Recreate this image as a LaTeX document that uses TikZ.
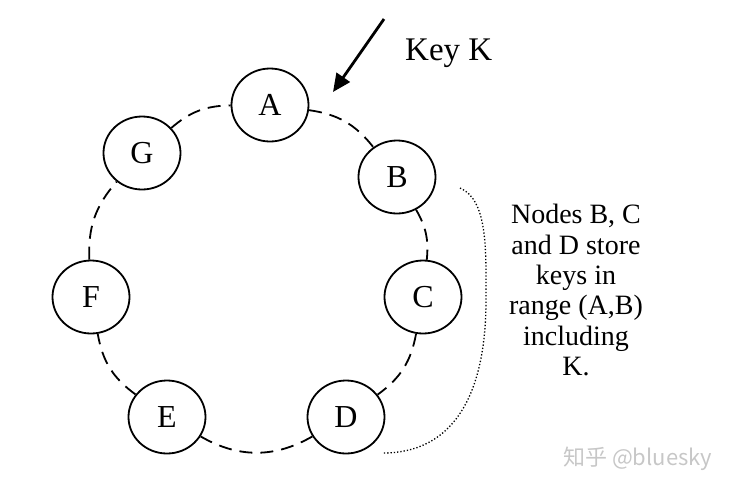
\documentclass[tikz,border=0pt]{standalone}
\usepackage{fontspec}
\setmainfont{Liberation Serif}
\newfontfamily\cjkwm{Noto Sans CJK SC}
\usetikzlibrary{shapes.geometric,arrows.meta}
\begin{document}
\begin{tikzpicture}[x=1pt,y=-1pt,
  ringnode/.style={draw,line width=1.8pt,ellipse,minimum width=77pt,minimum height=73pt,inner sep=0pt,fill=white,font=\fontsize{32}{36}\selectfont},
  ring/.style={line width=1.8pt,dash pattern=on 13pt off 8pt},
  keyarrow/.style={line width=2.8pt,-{Triangle[length=18pt,width=16pt]}},
  bracket/.style={line width=1.3pt,dash pattern=on 1.3pt off 2pt},
]
\useasboundingbox (0,0) rectangle (731,488);
\node[ringnode] (A) at (270,105) {A};
\node[ringnode] (B) at (397,177) {B};
\node[ringnode] (C) at (423,297) {C};
\node[ringnode] (D) at (346,417) {D};
\node[ringnode] (E) at (167,417) {E};
\node[ringnode] (F) at (91,297) {F};
\node[ringnode] (G) at (142,153) {G};
\draw[ring] (A) to[bend left=22] (B);
\draw[ring] (B) to[bend left=18] (C);
\draw[ring] (C) to[bend left=22] (D);
\draw[ring] (D) to[bend left=30] (E);
\draw[ring] (E) to[bend left=22] (F);
\draw[ring] (F) to[bend left=22] (G);
\draw[ring] (G) to[bend left=20] (A);
\coordinate (ks) at (384,19);
\coordinate (kt) at (333,92);
\draw[keyarrow] (ks) -- (kt);
\node[anchor=base west,inner sep=0pt,font=\fontsize{33}{36}\selectfont] (key) at (405,60) {Key K};
\coordinate (bs) at (460,188);
\coordinate (bm) at (486,300);
\coordinate (be) at (383,453);
\draw[bracket] (bs) .. controls (488,200) and (486,250) .. (bm) .. controls (486,400) and (450,453) .. (be);
\node[anchor=north,inner sep=0pt,align=center,font=\fontsize{28}{30.4}\selectfont] (txt) at (576,204)
  {Nodes B, C\\and D store\\keys in\\range (A,B)\\including\\K.};
\node[anchor=base west,inner sep=0pt,text=black!22,font=\cjkwm\fontsize{22}{24}\selectfont] (wm) at (563,465) {知乎 @bluesky};
\end{tikzpicture}
\end{document}
